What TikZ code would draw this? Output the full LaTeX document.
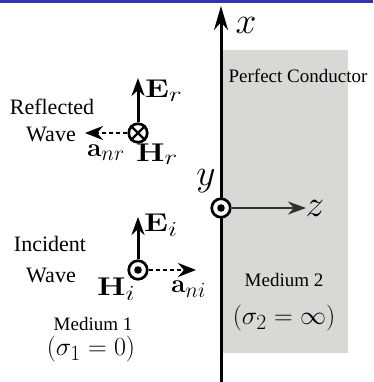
\documentclass[tikz,border=0pt]{standalone}
\usepackage[no-math]{fontspec}
\usepackage{graphicx}
\newfontfamily\tnr{Liberation Serif}
\usetikzlibrary{arrows.meta}
\definecolor{barblue}{RGB}{51,51,179}
\definecolor{condgray}{RGB}{216,217,215}
\definecolor{zgray}{RGB}{50,50,50}
\newcommand{\mA}[1]{\scalebox{1.045}{\Huge$#1$}}
\newcommand{\mV}[1]{\scalebox{1.3}[1.03]{\Huge$#1$}}
\newcommand{\mX}[1]{\scalebox{1.5}{\Huge$#1$}}
\begin{document}
\begin{tikzpicture}[x=1pt,y=-1pt,
  big/.style={font=\tnr\fontsize{22}{26}\selectfont, inner sep=0pt},
  small/.style={font=\tnr\fontsize{19}{22}\selectfont, inner sep=0pt},
  mth/.style={inner sep=0pt},
  vec/.style={line width=3pt, -{Stealth[length=18pt,width=13pt]}},
  dvec/.style={line width=2.7pt, dash pattern=on 4.5pt off 2.5pt, -{Stealth[length=18pt,width=14pt]}},
  ring/.style={circle, draw, line width=2.7pt, minimum size=18.5pt, inner sep=0pt, fill=white}]
\useasboundingbox (0,0) rectangle (373,382);
\fill[barblue] (0,0) rectangle (373,3);
% conductor
\fill[condgray] (223,50) rectangle (348,353);
% x axis
\coordinate (xb) at (221,382);
\coordinate (xt) at (221,6);
\draw[line width=3pt, -{Stealth[length=24pt,width=14pt]}] (xb) -- (xt);
\node[mth] (xl) at (246,25) {\mX{x}};
% origin
\node[ring] (o) at (221,208) {};
\fill (o.center) circle (3.8pt);
\coordinate (zt) at (306,208);
\draw[line width=2.9pt, zgray, -{Stealth[length=18pt,width=13pt]}] (o.east) -- (zt);
\node[mth] (yl) at (206,181) {\mX{y}};
\node[mth] (zl) at (315,208) {\mX{z}};
% labels conductor
\node[small, anchor=base] (pc) at (298,83) {Perfect Conductor};
\node[small, anchor=base] (m2) at (284,286) {Medium 2};
\node[mth, anchor=base] (s2) at (284,324) {\mA{(\sigma_2=\infty)}};
\node[small, anchor=base] (m1) at (93,330) {Medium 1};
\node[mth, anchor=base] (s1) at (91,355) {\mA{(\sigma_1=0)}};
% reflected wave
\node[big, anchor=base] (rf) at (52,115) {Reflected};
\node[big, anchor=base] (rw) at (51,142) {Wave};
\node[ring] (hr) at (138,133) {};
\draw[line width=2.2pt] (hr.north east) -- (hr.south west) (hr.north west) -- (hr.south east);
\coordinate (ert) at (138,78);
\coordinate (anrt) at (85,133);
\draw[vec] (hr.north) -- (ert);
\draw[dvec] (hr.west) -- (anrt);
\node[mth, anchor=base west] (erl) at (145,98) {\mV{\mathbf{E}_r}};
\node[mth, anchor=base west] (hrl) at (136,161) {\mV{\mathbf{H}_r}};
\node[mth, anchor=base west] (anrl) at (87,157) {\mA{\mathbf{a}_{nr}}};
% incident wave
\node[big, anchor=base] (inc) at (50,251) {Incident};
\node[big, anchor=base] (iw) at (51,282) {Wave};
\node[ring] (hi) at (138,270) {};
\fill (hi.center) circle (3.8pt);
\coordinate (eit) at (138,217);
\coordinate (anit) at (196,270);
\draw[vec] (hi.north) -- (eit);
\draw[dvec] (hi.east) -- (anit);
\node[mth, anchor=base west] (eil) at (144,231) {\mV{\mathbf{E}_i}};
\node[mth, anchor=base west] (hil) at (97,295) {\mV{\mathbf{H}_i}};
\node[mth, anchor=base west] (anil) at (171,292) {\mA{\mathbf{a}_{ni}}};
\end{tikzpicture}
\end{document}
